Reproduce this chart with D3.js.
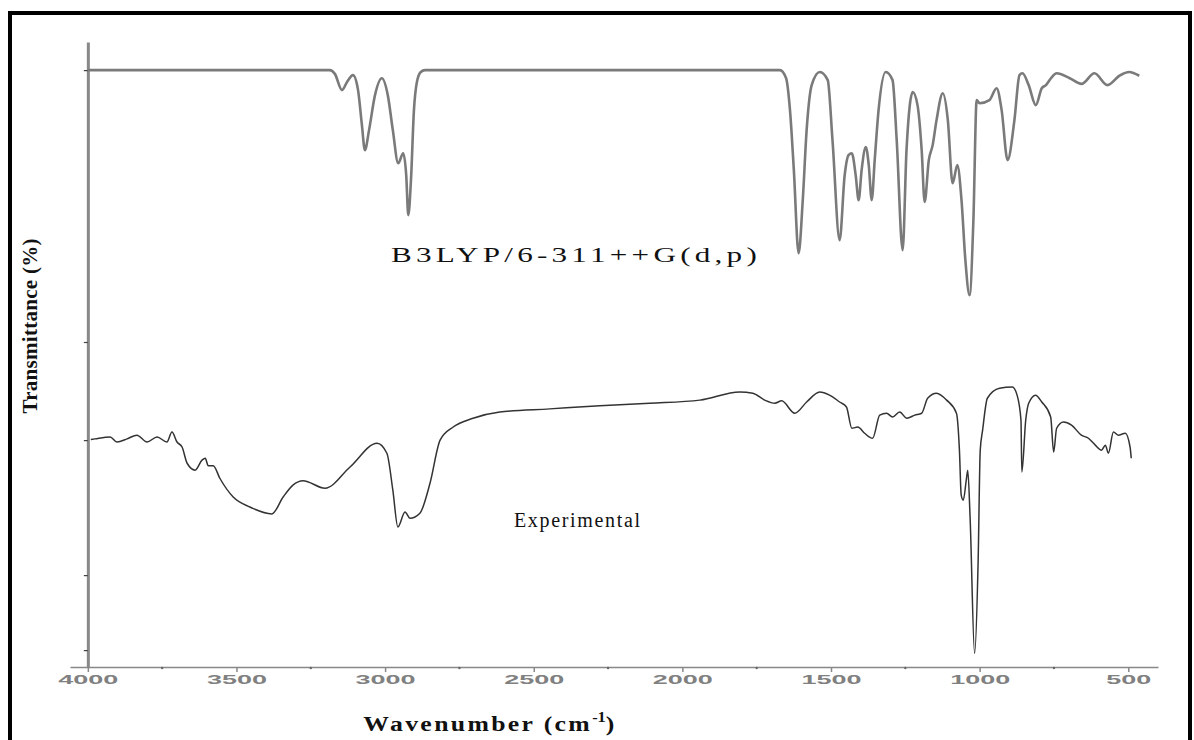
<!DOCTYPE html>
<html lang="en">
<head>
    <meta charset="UTF-8">
    <title>IR spectrum</title>
    <script src="https://cdn.jsdelivr.net/npm/d3@7"></script>
    <style>
        body {
            margin: 0;
            background-color: #fff;
        }

        svg {
            display: block;
        }

        .axis--x text {
            font: bold 12px "Liberation Sans", Arial, sans-serif;
            fill: #808080;
        }
    </style>
</head>

<body>
    <svg width="1194" height="740"></svg>
    <script>
        // tick values
        var xTicks = [4000, 3500, 3000, 2500, 2000, 1500, 1000, 500];
        var xMinorTicks = [3750, 3250, 2750, 2250, 1750, 1250, 750];
        var yTicks = [95.5, 52, 36.3, 14.7, 2.7];

        // B3LYP/6-311++G(d,p) calculated spectrum
        var calcWavenumber = [4000, 3186, 3169, 3145, 3128, 3108, 3091, 3078, 3068, 3054, 3034, 3011, 2991, 2974, 2956, 2939, 2929, 2922, 2913, 2903, 2893, 2880, 2866,
            1672, 1651, 1638, 1625, 1609, 1595, 1582, 1565, 1538, 1511, 1495, 1471, 1454, 1441, 1430, 1417, 1407, 1397, 1383, 1373, 1363, 1353, 1340, 1316,
            1293, 1279, 1259, 1246, 1225, 1209, 1195, 1185, 1171, 1158, 1145, 1124, 1107, 1091, 1075, 1061, 1048, 1034, 1021, 1010, 1000, 967, 943, 926,
            906, 883, 866, 856, 835, 811, 791, 777, 760, 741, 697, 657, 614, 570, 530, 497, 463];
        var calcTransmittance = [95.5, 95.5, 94.9, 92.3, 93.6, 94.7, 92.3, 86.7, 82.7, 85.9, 91.5, 94.2, 91.5, 85.9, 80.6, 82.2, 78.7, 72.3, 77.9, 89.1, 93.6, 95.2, 95.5,
            95.5, 94.2, 89.1, 79.5, 66.2, 74.7, 85.9, 93.1, 95.2, 93.9, 84.3, 68.3, 78.7, 81.9, 82.2, 78.7, 74.7, 79.5, 83.2, 80.3, 74.7, 81.1, 89.1, 95.2,
            93.9, 84.3, 66.7, 82.7, 92.0, 89.9, 82.7, 74.4, 81.1, 83.5, 87.5, 91.8, 87.5, 77.4, 80.3, 74.7, 65.1, 59.5, 71.5, 90.7, 90.2, 90.7, 92.6, 89.1,
            81.1, 87.5, 94.7, 95.0, 93.1, 89.9, 92.6, 93.1, 94.2, 95.0, 94.2, 93.3, 95.0, 93.1, 94.6, 95.2, 94.6];

        // experimental spectrum
        var expWavenumber = [3990, 3976, 3925, 3902, 3868, 3835, 3801, 3767, 3734, 3717, 3700, 3683, 3666, 3639, 3616, 3605, 3595, 3578, 3556, 3511, 3455, 3381,
            3343, 3310, 3276, 3202, 3118, 3027, 2994, 2974, 2957, 2933, 2916, 2883, 2849, 2815, 2771, 2704, 2614, 2446, 2278, 2110, 1941, 1807, 1763,
            1723, 1689, 1666, 1622, 1582, 1538, 1505, 1471, 1448, 1430, 1410, 1387, 1360, 1336, 1313, 1293, 1269, 1245, 1218, 1195, 1175, 1145, 1111,
            1078, 1068, 1062, 1055, 1045, 1040, 1032, 1017, 1005, 998, 990, 974, 933, 890, 874, 861, 858, 845, 835, 812, 791, 761, 751, 741, 718, 691,
            658, 634, 611, 590, 577, 567, 550, 534, 510, 494, 490];
        var expTransmittance = [36.4, 36.5, 36.8, 36.0, 36.5, 37.1, 36.0, 36.8, 36.0, 37.6, 36.0, 35.2, 32.6, 31.5, 33.1, 33.4, 32.2, 32.2, 30.2, 27.2, 25.6, 24.5,
            27.2, 29.1, 29.8, 28.6, 32.0, 35.8, 34.2, 28.3, 22.4, 24.8, 23.8, 24.6, 29.4, 36.3, 38.4, 39.8, 40.8, 41.3, 41.8, 42.2, 42.7, 44.0, 43.8,
            42.7, 42.2, 42.6, 40.6, 42.4, 44.0, 43.5, 42.4, 41.6, 38.2, 38.4, 37.4, 36.6, 40.3, 40.6, 40.0, 40.8, 39.8, 40.3, 40.6, 43.0, 43.8, 42.7,
            40.6, 34.7, 27.5, 26.7, 29.9, 31.5, 23.8, 2.2, 17.1, 34.7, 37.9, 43.0, 44.6, 44.8, 43.5, 39.5, 31.2, 39.5, 42.2, 43.5, 42.4, 40.0, 34.4, 38.2, 39.2, 38.7,
            37.1, 36.6, 35.5, 34.7, 35.5, 34.2, 37.6, 37.1, 37.4, 35.2, 33.4];

        var svg = d3.select("svg");

        var x = d3.scaleLinear()
            .domain([4060, 400])
            .range([70, 1158]);

        var y = d3.scaleLinear()
            .domain([0, 100])
            .range([667, 42]);

        var line = d3.line()
            .x(function (d) { return x(d[0]); })
            .y(function (d) { return y(d[1]); })
            .curve(d3.curveMonotoneX);

        var calc = d3.zip(calcWavenumber, calcTransmittance);
        var exp = d3.zip(expWavenumber, expTransmittance);

        // frame (bottom edge runs off the picture)
        svg.append("rect")
            .attr("x", 10)
            .attr("y", 13)
            .attr("width", 1180)
            .attr("height", 760)
            .attr("fill", "none")
            .attr("stroke", "#000")
            .attr("stroke-width", 4);

        // x axis
        var xAxis = svg.append("g")
            .attr("class", "axis--x")
            .attr("transform", "translate(0," + y(0) + ")")
            .call(d3.axisBottom(x).tickValues(xTicks).tickSize(5).tickSizeOuter(0).tickPadding(3).tickFormat(d3.format("d")));
        xAxis.select(".domain").attr("stroke", "#888").attr("stroke-width", 1.5);
        xAxis.selectAll(".tick line").attr("stroke", "#888").attr("stroke-width", 1.5);
        // labels are drawn wide and flat, like the original
        xAxis.selectAll(".tick text")
            .attr("textLength", function (d) { return String(d).length * 15; })
            .attr("lengthAdjust", "spacingAndGlyphs");

        svg.append("g")
            .selectAll("circle")
            .data(xMinorTicks)
            .enter()
            .append("circle")
            .attr("cx", function (d) { return x(d); })
            .attr("cy", y(0) + 1)
            .attr("r", 1.2)
            .attr("fill", "#666");

        // y axis
        var yAxis = svg.append("g")
            .attr("transform", "translate(" + x(4000) + ",0)")
            .call(d3.axisLeft(y).tickValues(yTicks).tickSize(4).tickSizeOuter(0).tickFormat(""));
        yAxis.select(".domain").attr("stroke", "#888").attr("stroke-width", 3);
        yAxis.selectAll(".tick line").attr("stroke", "#444").attr("stroke-width", 1.2);

        // spectra
        svg.append("path")
            .datum(calc)
            .attr("fill", "none")
            .attr("stroke", "#7a7a7a")
            .attr("stroke-width", 2.6)
            .attr("stroke-linejoin", "round")
            .attr("d", line);

        svg.append("path")
            .datum(exp)
            .attr("fill", "none")
            .attr("stroke", "#333")
            .attr("stroke-width", 1.5)
            .attr("stroke-linejoin", "round")
            .attr("d", line);

        // labels
        svg.append("text")
            .attr("x", 576)
            .attr("y", 262)
            .attr("text-anchor", "middle")
            .attr("textLength", 370)
            .attr("lengthAdjust", "spacingAndGlyphs")
            .style("font", "22px 'Liberation Serif', 'Times New Roman', serif")
            .style("letter-spacing", "3px")
            .attr("fill", "#111")
            .text("B3LYP/6-311++G(d,p)");

        svg.append("text")
            .attr("x", 577)
            .attr("y", 527)
            .attr("text-anchor", "middle")
            .attr("textLength", 126)
            .attr("lengthAdjust", "spacing")
            .style("font", "20px 'Liberation Serif', 'Times New Roman', serif")
            .attr("fill", "#111")
            .text("Experimental");

        svg.append("text")
            .attr("transform", "translate(37,326) rotate(-90)")
            .attr("text-anchor", "middle")
            .attr("textLength", 175)
            .attr("lengthAdjust", "spacing")
            .style("font", "bold 21px 'Liberation Serif', 'Times New Roman', serif")
            .attr("fill", "#111")
            .text("Transmittance (%)");

        // x title, stretched a little sideways
        var xTitle = svg.append("text")
            .attr("transform", "translate(490,731) scale(1.17,1)")
            .attr("text-anchor", "middle")
            .style("font", "bold 22px 'Liberation Serif', 'Times New Roman', serif")
            .style("letter-spacing", "2px")
            .attr("fill", "#111");
        xTitle.append("tspan").text("Wavenumber (cm");
        xTitle.append("tspan").attr("dy", -9).style("font-size", "14px").style("letter-spacing", "0px").text("-1");
        xTitle.append("tspan").attr("dy", 9).text(")");
    </script>
</body>

</html>
